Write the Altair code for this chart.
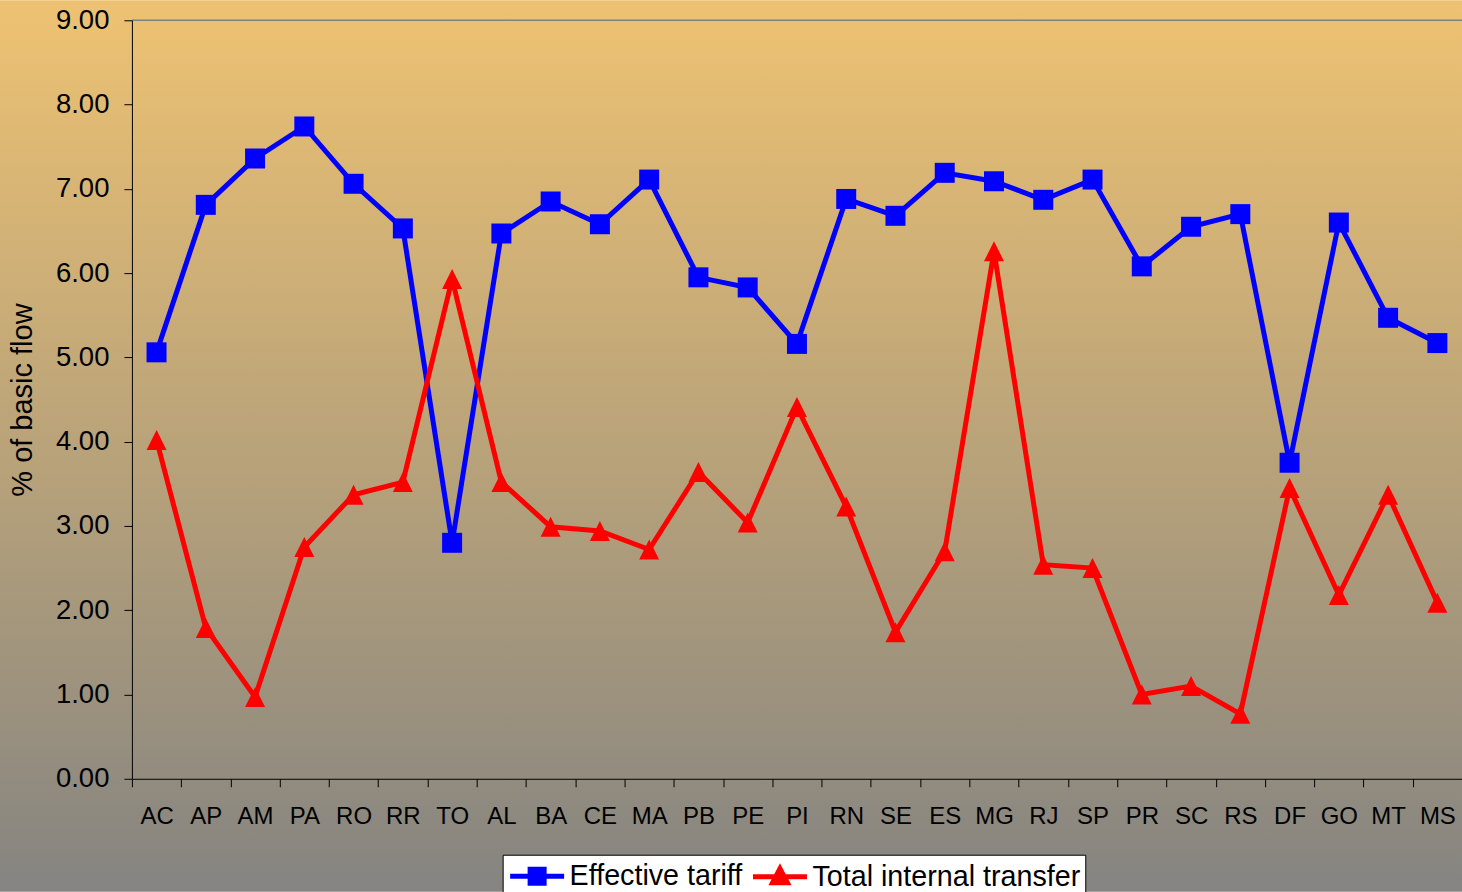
import altair as alt
import pandas as pd

states = ["AC", "AP", "AM", "PA", "RO", "RR", "TO", "AL", "BA", "CE", "MA", "PB", "PE", "PI",
          "RN", "SE", "ES", "MG", "RJ", "SP", "PR", "SC", "RS", "DF", "GO", "MT", "MS"]
effective_tariff = [5.06, 6.81, 7.36, 7.74, 7.06, 6.53, 2.80, 6.47, 6.85, 6.58, 7.11, 5.95, 5.83, 5.16,
                    6.88, 6.68, 7.19, 7.09, 6.87, 7.11, 6.08, 6.55, 6.70, 3.75, 6.60, 5.47, 5.17]
total_internal_transfer = [4.02, 1.79, 0.97, 2.75, 3.37, 3.52, 5.93, 3.52, 2.99, 2.94, 2.72, 3.64, 3.04, 4.41,
                           3.23, 1.74, 2.70, 6.26, 2.54, 2.50, 1.00, 1.10, 0.77, 3.45, 2.18, 3.37, 2.09]
series_names = ["Effective tariff", "Total internal transfer"]
series_colors = ["#0000FF", "#FF0000"]
y_ticks = [0, 1, 2, 3, 4, 5, 6, 7, 8, 9]

rows = []
for s, e, t in zip(states, effective_tariff, total_internal_transfer):
    rows.append({"state": s, "series": series_names[0], "value": e})
    rows.append({"state": s, "series": series_names[1], "value": t})
df = pd.DataFrame(rows)

W, H = 1331, 759
PAD_L, PAD_T, PAD_B = 132, 20, 113
step = W / len(states)
FONT = "Liberation Sans"

x_enc = alt.X(
    "state:N", sort=states, title=None,
    scale=alt.Scale(padding=0.5),
    axis=alt.Axis(labelAngle=0, labelFontSize=24, labelPadding=18, tickSize=8,
                  tickOffset=-step / 2, labelOffset=step / 2, domainColor="black",
                  tickColor="black", labelColor="black", grid=False, labelOverlap=False,
                  labelFont=FONT, zindex=1),
)
y_enc = alt.Y(
    "value:Q",
    scale=alt.Scale(domain=[0, 9], nice=False),
    axis=alt.Axis(values=y_ticks, format=".2f", labelFontSize=27.5, labelPadding=15, tickSize=8,
                  domainColor="black", tickColor="black", labelColor="black", grid=False,
                  labelFlush=False, labelFont=FONT, zindex=1,
                  title="% of basic flow", titleFontSize=29, titleFontWeight="normal",
                  titleColor="black", titlePadding=18, titleFont=FONT),
)

one = pd.DataFrame({"k": [0]})
gradient = alt.LinearGradient(
    gradient="linear",
    stops=[alt.GradientStop(offset=0, color="#EEC272"),
           alt.GradientStop(offset=1, color="#858481")],
    x1=0, x2=0, y1=0, y2=1,
)
bg = alt.Chart(one).mark_rect(fill=gradient, clip=False).encode(
    x=alt.value(-PAD_L), x2=alt.value(W + 10), y=alt.value(-PAD_T), y2=alt.value(H + PAD_B)
)
top_rule = alt.Chart(one).mark_rule(color="#808080", strokeWidth=1.5).encode(
    x=alt.value(0), x2=alt.value(W), y=alt.value(0)
)

tri_path = "M0,-1L1,1L-1,1Z"

blue = alt.Chart(df).transform_filter(alt.datum.series == series_names[0]).mark_line(
    color=series_colors[0], strokeWidth=5,
    point=alt.OverlayMarkDef(shape="square", size=400, filled=True, color=series_colors[0],
                             opacity=1, strokeWidth=0),
).encode(x=x_enc, y=y_enc)

red = alt.Chart(df).transform_filter(alt.datum.series == series_names[1]).mark_line(
    color=series_colors[1], strokeWidth=5,
    point=alt.OverlayMarkDef(shape=tri_path, size=400, filled=True, color=series_colors[1],
                             opacity=1, strokeWidth=0),
).encode(x=x_enc, y=y_enc)

sq_leg = "M-1,0H3M0.48,-0.52H1.52V0.52H0.48Z"
tri_leg = "M-1,0H3M1,-0.6L1.55,0.45L0.45,0.45Z"

leg = alt.Chart(df).transform_filter("false").mark_point(filled=True, opacity=1, strokeWidth=5).encode(
    fill=alt.Fill("series:N", scale=alt.Scale(domain=series_names, range=series_colors),
                  legend=alt.Legend(title=None)),
    stroke=alt.Stroke("series:N", scale=alt.Scale(domain=series_names, range=series_colors),
                      legend=alt.Legend(title=None)),
    shape=alt.Shape("series:N", scale=alt.Scale(domain=series_names, range=[sq_leg, tri_leg]),
                    legend=alt.Legend(title=None)),
)

chart = alt.layer(bg, top_rule, blue, red, leg).properties(
    width=W, height=H,
    padding={"left": PAD_L, "top": PAD_T, "right": 0, "bottom": PAD_B},
    autosize="none",
).configure(font=FONT).configure_view(stroke=None).configure_legend(
    orient="none", legendX=371, legendY=835, direction="horizontal",
    fillColor="white", strokeColor="black", padding=5, cornerRadius=0,
    labelFontSize=28.7, labelColor="black", labelFont=FONT, labelLimit=600,
    symbolSize=729, symbolStrokeWidth=5, labelOffset=30, columnPadding=0,
)

chart.save("out.html", embed_options={"renderer": "svg", "actions": False})
